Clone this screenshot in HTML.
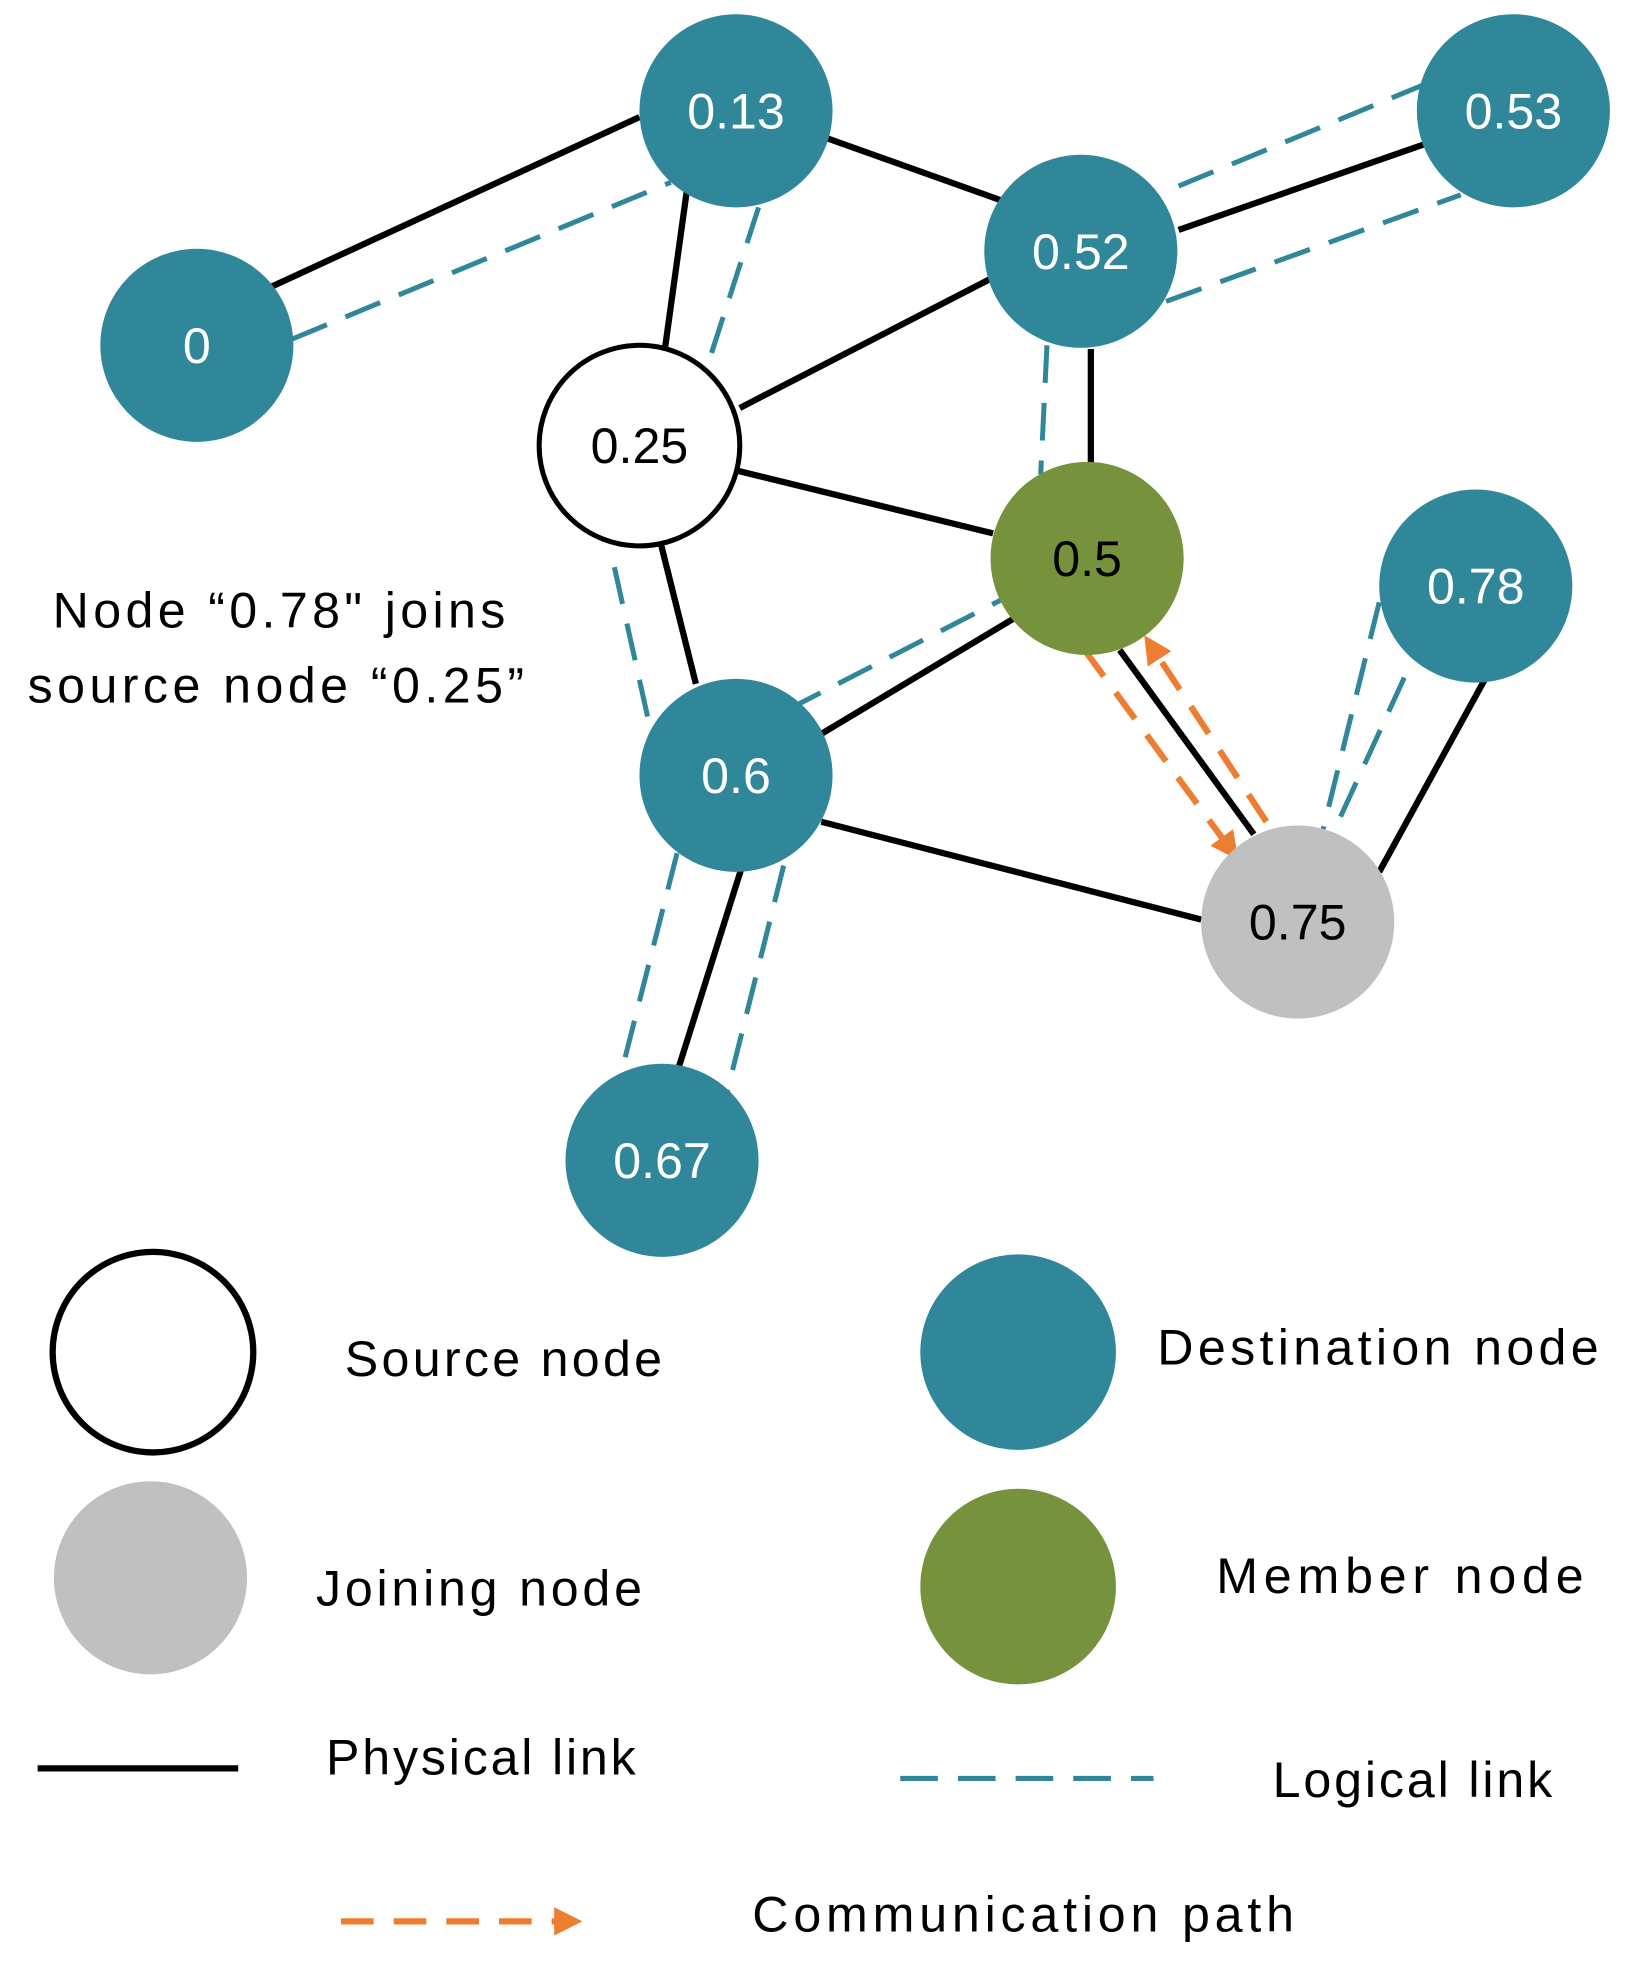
<!DOCTYPE html>
<html><head><meta charset="utf-8"><style>
html,body{margin:0;padding:0;background:#fff}
svg{display:block}
text{font-family:"Liberation Sans","DejaVu Sans",sans-serif}
</style></head><body>
<svg width="1630" height="1967" viewBox="0 0 1300 1568" xmlns="http://www.w3.org/2000/svg">
<defs>
<marker id="ah" viewBox="0 0 10 10" refX="8" refY="5" markerWidth="4.5" markerHeight="4.5" orient="auto-start-reverse">
<path d="M0,0 L10,5 L0,10 z" fill="#ed7d31"/></marker>
</defs>
<g stroke="#000" stroke-width="5" fill="none">
<line x1="217" y1="228" x2="510" y2="93"/>
<line x1="660" y1="110" x2="800" y2="160"/>
<line x1="548" y1="150" x2="530" y2="280"/>
<line x1="590" y1="325" x2="790" y2="222"/>
<line x1="588" y1="375" x2="792" y2="425"/>
<line x1="527" y1="433" x2="555" y2="545"/>
<line x1="940" y1="183" x2="1135" y2="115"/>
<line x1="870" y1="278" x2="870" y2="370"/>
<line x1="810" y1="492" x2="655" y2="585"/>
<line x1="893" y1="518" x2="1000" y2="665"/>
<line x1="655" y1="655" x2="958" y2="733"/>
<line x1="1185" y1="540" x2="1100" y2="695"/>
<line x1="592" y1="690" x2="540" y2="855"/>
<line x1="30" y1="1410" x2="190" y2="1410"/>
</g>
<g stroke="#31879a" stroke-width="4" fill="none" stroke-dasharray="30,16">
<line x1="233" y1="270" x2="535" y2="145"/>
<line x1="605" y1="165" x2="563" y2="295"/>
<line x1="940" y1="148" x2="1148" y2="62"/>
<line x1="930" y1="240" x2="1165" y2="155"/>
<line x1="835" y1="275" x2="830" y2="378"/>
<line x1="490" y1="452" x2="518" y2="578"/>
<line x1="818" y1="468" x2="610" y2="575"/>
<line x1="1100" y1="480" x2="1055" y2="662"/>
<line x1="1120" y1="540" x2="1065" y2="660"/>
<line x1="540" y1="680" x2="495" y2="857"/>
<line x1="625" y1="690" x2="580" y2="870"/>
<line x1="718" y1="1418" x2="920" y2="1418"/>
</g>
<g stroke="#ed7d31" stroke-width="5" fill="none" stroke-dasharray="26,16">
<line x1="865" y1="518" x2="985" y2="682" marker-end="url(#ah)"/>
<line x1="1010" y1="655" x2="915" y2="510" marker-end="url(#ah)"/>
<line x1="272" y1="1532" x2="460" y2="1532" marker-end="url(#ah)"/>
</g>
<g fill="#31879a">
<circle cx="587" cy="88" r="77"/><circle cx="1207" cy="88" r="77"/>
<circle cx="862" cy="200" r="77"/><circle cx="157" cy="275" r="77"/>
<circle cx="1177" cy="467" r="77"/><circle cx="587" cy="618" r="77"/>
<circle cx="528" cy="925" r="77"/><circle cx="812" cy="1078" r="78"/>
</g>
<circle cx="510" cy="355" r="80" fill="#fff" stroke="#000" stroke-width="4"/>
<circle cx="867" cy="445" r="77" fill="#76923c"/>
<circle cx="1035" cy="735" r="77" fill="#c0c0c0"/>
<circle cx="812" cy="1265" r="78" fill="#76923c"/>
<circle cx="122" cy="1078" r="80" fill="#fff" stroke="#000" stroke-width="5"/>
<circle cx="120" cy="1258" r="77" fill="#c0c0c0"/>
<g font-size="40" text-anchor="middle" fill="#fff">
<text x="587" y="102">0.13</text><text x="1207" y="102">0.53</text>
<text x="862" y="214">0.52</text><text x="157" y="289">0</text>
<text x="1177" y="481">0.78</text><text x="587" y="632">0.6</text>
<text x="528" y="939">0.67</text>
<text x="510" y="369" fill="#000">0.25</text>
<text x="867" y="459" fill="#000">0.5</text>
<text x="1035" y="749" fill="#000">0.75</text>
</g>
<g font-size="40" fill="#000" lengthAdjust="spacing">
<text x="42" y="500" textLength="361">Node “0.78" joins</text>
<text x="22" y="560" textLength="396">source node “0.25”</text>
<text x="275" y="1097" textLength="253">Source node</text>
<text x="252" y="1280" textLength="260">Joining node</text>
<text x="260" y="1415" textLength="247">Physical link</text>
<text x="923" y="1088" textLength="352">Destination node</text>
<text x="970" y="1270" textLength="293">Member node</text>
<text x="1015" y="1433" textLength="223">Logical link</text>
<text x="600" y="1540" textLength="432">Communication path</text>
</g>
</svg>
</body></html>
